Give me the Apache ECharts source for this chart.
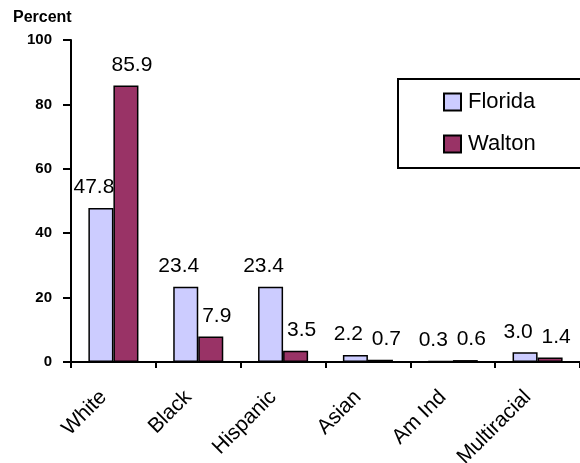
<!DOCTYPE html>
<html>
<head>
    <meta charset="utf-8">
    <title>Percent</title>
    <script src="https://cdn.jsdelivr.net/npm/echarts@6/dist/echarts.min.js"></script>
    <style>
        html, body { margin: 0; padding: 0; background: #ffffff; }
        #chart { width: 580px; height: 463px; }
    </style>
</head>
<body>
<div id="chart"></div>
<script>
    // data
    var categories = ['White', 'Black', 'Hispanic', 'Asian', 'Am Ind', 'Multiracial'];
    var florida = [47.8, 23.4, 23.4, 2.2, 0.3, 3.0];
    var walton = [85.9, 7.9, 3.5, 0.7, 0.6, 1.4];
    var yTicks = [0, 20, 40, 60, 80, 100];

    var font = '"Liberation Sans", Arial, sans-serif';

    var chart = echarts.init(document.getElementById('chart'));

    function barLabel(dx) {
        return {
            show: true,
            position: 'top',
            distance: 10,
            offset: [dx, 0],
            color: '#000',
            fontSize: 21,
            fontFamily: font,
            formatter: function (p) { return p.value.toFixed(1); }
        };
    }

    var option = {
        animation: false,
        title: {
            text: 'Percent',
            left: 8,
            top: 5,
            textStyle: { fontSize: 16, fontWeight: 'bold', color: '#000', fontFamily: font }
        },
        legend: {
            orient: 'vertical',
            left: 398,
            top: 79,
            padding: [12, 80, 13, 45],
            itemWidth: 17,
            itemHeight: 17,
            itemGap: 20,
            borderColor: '#000',
            borderWidth: 2,
            borderRadius: 0,
            icon: 'rect',
            textStyle: { fontSize: 22, color: '#000', fontFamily: font, padding: [0, 0, 0, 2] },
            data: ['Florida', 'Walton']
        },
        grid: {
            left: 71,
            right: 0,
            top: 40,
            bottom: 101,
            containLabel: false,
            outerBoundsMode: 'none'
        },
        xAxis: {
            type: 'category',
            data: categories,
            axisLine: { lineStyle: { color: '#000', width: 2 } },
            axisTick: { show: true, length: 6, lineStyle: { color: '#000', width: 2 } },
            axisLabel: {
                rotate: 45,
                margin: 22,
                padding: [0, 14, 0, 0],
                color: '#000',
                fontSize: 21,
                fontFamily: font,
                interval: 0
            }
        },
        yAxis: {
            type: 'value',
            min: yTicks[0],
            max: yTicks[yTicks.length - 1],
            interval: 20,
            splitLine: { show: false },
            axisLine: { show: true, lineStyle: { color: '#000', width: 2 } },
            axisTick: { show: true, length: 8, lineStyle: { color: '#000', width: 2 } },
            axisLabel: {
                margin: 19,
                color: '#000',
                fontSize: 15,
                fontWeight: 'bold',
                fontFamily: font
            }
        },
        series: [
            {
                name: 'Florida',
                type: 'bar',
                data: florida,
                barGap: '0%',
                barCategoryGap: '41%',
                itemStyle: { color: '#CCCCFF', borderColor: '#000', borderWidth: 1.5 },
                label: barLabel(-7)
            },
            {
                name: 'Walton',
                type: 'bar',
                data: walton,
                itemStyle: { color: '#993366', borderColor: '#000', borderWidth: 1.5 },
                label: barLabel(6)
            }
        ]
    };
    chart.setOption(option);

    window.onresize = function () {
        chart.resize();
    };
</script>
</body>
</html>
